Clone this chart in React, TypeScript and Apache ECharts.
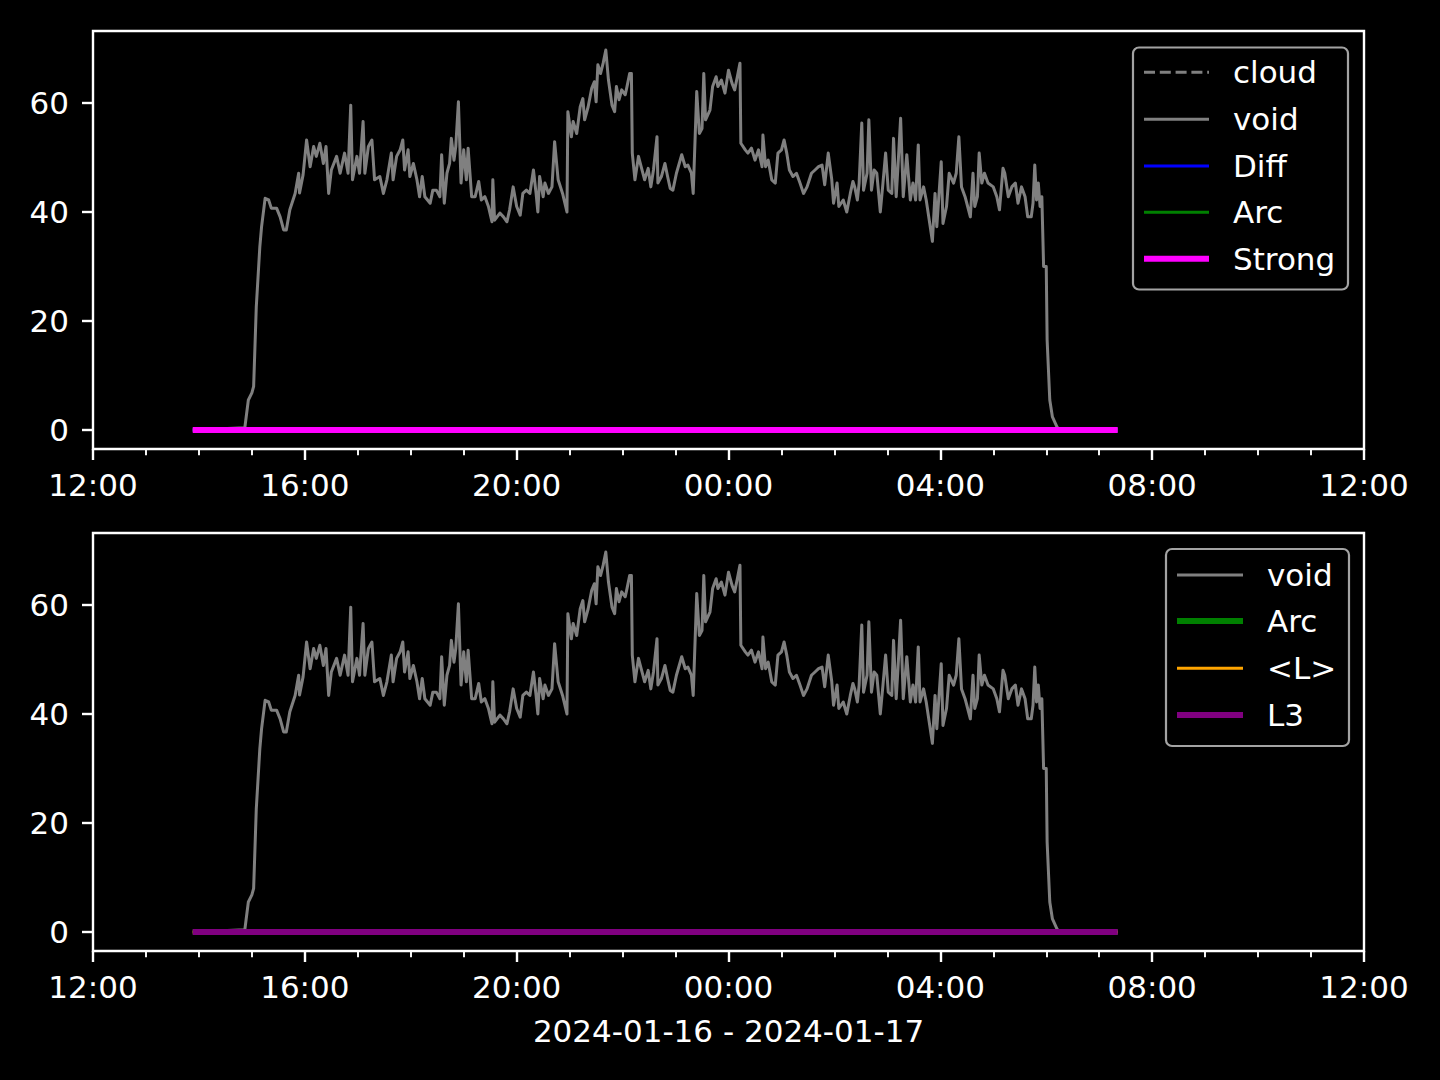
import React, { useEffect, useRef } from "react";
import * as echarts from "echarts";

// Time axis: 2024-01-16 12:00 -> 2024-01-17 12:00 (hours from 12:00)
const xTickHours = [0, 4, 8, 12, 16, 20, 24];
const yTickValues = [0, 20, 40, 60];
const dateLabel = "2024-01-16 - 2024-01-17";

const voidTimes = [
  "13:53", "14:52", "14:56", "15:00", "15:02", "15:05", "15:09", "15:11", "15:15", "15:19",
  "15:22", "15:28", "15:32", "15:36", "15:39", "15:43", "15:49", "15:53", "15:54", "15:58",
  "16:02", "16:06", "16:10", "16:13", "16:17", "16:21", "16:24", "16:27", "16:30", "16:36",
  "16:40", "16:45", "16:49", "16:52", "16:54", "16:59", "17:02", "17:06", "17:08", "17:12",
  "17:16", "17:19", "17:25", "17:29", "17:33", "17:38", "17:40", "17:44", "17:48", "17:51",
  "17:53", "17:57", "17:59", "18:03", "18:07", "18:10", "18:13", "18:16", "18:22", "18:25",
  "18:29", "18:33", "18:35", "18:38", "18:41", "18:44", "18:46", "18:49", "18:51", "18:54",
  "18:57", "19:00", "19:03", "19:05", "19:09", "19:13", "19:17", "19:20", "19:24", "19:28",
  "19:32", "19:33", "19:35", "19:41", "19:45", "19:49", "19:52", "19:56", "20:00", "20:04",
  "20:07", "20:11", "20:15", "20:19", "20:22", "20:24", "20:26", "20:30", "20:32", "20:36",
  "20:40", "20:43", "20:47", "20:52", "20:57", "20:58", "21:02", "21:04", "21:08", "21:12",
  "21:15", "21:17", "21:21", "21:25", "21:28", "21:30", "21:32", "21:35", "21:38", "21:41",
  "21:44", "21:48", "21:51", "21:53", "21:56", "21:59", "22:03", "22:05", "22:08", "22:10",
  "22:11", "22:14", "22:18", "22:22", "22:25", "22:29", "22:32", "22:35", "22:39", "22:40",
  "22:44", "22:48", "22:51", "22:54", "22:57", "23:01", "23:07", "23:11", "23:14", "23:18",
  "23:20", "23:24", "23:27", "23:30", "23:32", "23:34", "23:39", "23:42", "23:46", "23:48",
  "23:52", "23:56", "00:00", "00:04", "00:07", "00:10", "00:13", "00:14", "00:19", "00:22",
  "00:26", "00:30", "00:34", "00:38", "00:39", "00:42", "00:45", "00:49", "00:53", "00:56",
  "01:00", "01:03", "01:06", "01:09", "01:13", "01:17", "01:21", "01:25", "01:29", "01:34",
  "01:38", "01:42", "01:46", "01:49", "01:53", "01:57", "01:59", "02:03", "02:05", "02:10",
  "02:14", "02:18", "02:21", "02:23", "02:26", "02:28", "02:31", "02:33", "02:37", "02:39",
  "02:42", "02:45", "02:48", "02:52", "02:55", "02:58", "03:01", "03:05", "03:07", "03:10",
  "03:12", "03:15", "03:18", "03:22", "03:26", "03:29", "03:32", "03:35", "03:37", "03:41",
  "03:44", "03:48", "03:51", "03:54", "03:56", "04:01", "04:03", "04:07", "04:10", "04:15",
  "04:18", "04:21", "04:24", "04:28", "04:30", "04:34", "04:37", "04:39", "04:42", "04:44",
  "04:47", "04:50", "04:54", "05:00", "05:04", "05:07", "05:11", "05:13", "05:17", "05:21",
  "05:25", "05:28", "05:32", "05:36", "05:39", "05:43", "05:45", "05:47", "05:49", "05:51",
  "05:53", "05:55", "05:57", "06:00", "06:01", "06:04", "06:07", "06:12", "06:15", "07:21",
];

const voidValues = [
  0, 0.4, 5.5, 6.8, 8, 22.6, 33.6, 37.3, 42.5, 42.2,
  40.7, 40.7, 39.1, 36.7, 36.7, 40.4, 43.4, 47.1, 43.5, 46.8,
  53.2, 48.3, 52, 50.2, 52.6, 48.9, 52, 43.4, 47.7, 50.2,
  47.1, 50.8, 47.1, 59.6, 45.9, 50.2, 47.1, 56.6, 47.1, 52,
  53.2, 45.9, 46.5, 43.4, 45.9, 50.8, 45.9, 50.2, 51.4, 53.2,
  47.7, 51.4, 46.5, 48.9, 45.9, 42.8, 46.5, 42.8, 41.6, 44,
  44, 42.8, 50.5, 41.6, 47.1, 48.9, 53.5, 49.5, 52, 60.2,
  45.3, 51.4, 45.9, 51.7, 42.8, 42.8, 45.6, 42.2, 42.8, 41,
  38.2, 45.9, 38.5, 39.8, 39.1, 38.2, 40.4, 44.6, 41, 39.4,
  43.4, 44, 43.4, 47.7, 43.4, 40, 46.5, 42.8, 45.3, 43.4,
  44.6, 52.9, 45.9, 43.4, 40, 58.4, 53.8, 56.6, 54.4, 59.3,
  60.8, 56.9, 59.3, 62.7, 63.9, 60.2, 67, 65.4, 67.3, 69.7,
  64.2, 59.6, 58.4, 63, 60.6, 62.4, 61.5, 63, 65.4, 65.4,
  50.8, 45.9, 50.2, 47.7, 45.9, 48, 44.6, 47.7, 53.8, 45.3,
  46.5, 48.9, 46.5, 44.3, 44, 47.1, 50.5, 48.3, 48.6, 47.1,
  43.4, 62.1, 54.4, 55.3, 65.4, 56.9, 58.7, 63, 64.8, 63,
  64.2, 61.8, 66, 63.6, 62.4, 64.8, 67.3, 52.6, 51.4, 50.8,
  51.7, 49.5, 51.4, 48.3, 54.1, 48.3, 49.5, 45.9, 45.3, 50.8,
  51.4, 53.2, 50.8, 47.7, 46.5, 47.1, 45.3, 43.4, 44.6, 47.1,
  47.7, 48.3, 48.6, 45, 50.8, 45.9, 41.6, 45.3, 41, 42.2,
  40, 43.4, 45.6, 44.6, 42.2, 45.3, 56.3, 44, 47.1, 56.9,
  44, 47.7, 47.1, 40, 45.3, 50.8, 44, 43.4, 53.5, 42.8,
  48.3, 57.2, 42.8, 50.5, 42.2, 45.3, 42.2, 52.3, 42.2, 44.6,
  42.2, 37.9, 34.6, 43.4, 37.3, 49.2, 37.9, 41, 47.1, 45.3,
  47.1, 53.8, 44.6, 42.8, 41.6, 39.1, 47.1, 41, 42.8, 50.8,
  45.3, 47.1, 45.3, 44.6, 42.8, 40.4, 48, 47.1, 42.8, 44.6,
  45.3, 41.6, 44.6, 42.8, 39.1, 39.1, 41.6, 48.6, 42.2, 45.3,
  41, 42.8, 30, 30, 16.5, 5.5, 2.4, 0.6, 0, 0,
];

// Flat series (cloud, Diff, Arc, Strong, <L>, L3) all sit at 0
const flatTimes = ["13:53", "07:21"];
const flatValues = [0, 0];

const toHours = (t: string): number => {
  const [h, m] = t.split(":").map(Number);
  const v = h + m / 60;
  return v >= 12 ? v - 12 : v + 12;
};

const pairs = (times: string[], values: number[]) =>
  times.map((t, i) => [toHours(t), values[i]]);

const FONT = "DejaVu Sans";
const FS = 31;
const LW = 3;

export default function App() {
  const ref = useRef<HTMLDivElement>(null);

  useEffect(() => {
    document.body.style.margin = "0";
    document.body.style.background = "#000";
    const chart = echarts.init(ref.current!, null, { renderer: "svg" });

    const voidData = pairs(voidTimes, voidValues);
    const flatData = pairs(flatTimes, flatValues);

    const xAxisBase = (gridIndex: number, withName: boolean) => ({
      type: "value",
      gridIndex,
      min: 0,
      max: 24,
      interval: 4,
      axisLine: { show: false, onZero: false },
      splitLine: { show: false },
      axisTick: {
        show: true,
        length: 11,
        inside: false,
        customValues: xTickHours,
        lineStyle: { color: "#fff", width: 2.4 },
      },
      minorTick: {
        show: true,
        splitNumber: 4,
        length: 6.2,
        lineStyle: { color: "#fff", width: 1.9 },
      },
      axisLabel: {
        color: "#fff",
        fontSize: FS,
        fontFamily: FONT,
        margin: 20,
        showMinLabel: true,
        showMaxLabel: true,
        customValues: xTickHours,
        formatter: (v: number) =>
          String((12 + Math.round(v)) % 24).padStart(2, "0") + ":00",
      },
      ...(withName
        ? {
            name: dateLabel,
            nameLocation: "middle",
            nameGap: 64,
            nameTextStyle: { color: "#fff", fontSize: FS, fontFamily: FONT },
          }
        : {}),
    });

    const yAxisBase = (gridIndex: number) => ({
      type: "value",
      gridIndex,
      min: -3.49,
      max: 73.2,
      axisLine: { show: false, onZero: false },
      splitLine: { show: false },
      axisTick: {
        show: true,
        length: 11,
        inside: false,
        customValues: yTickValues,
        lineStyle: { color: "#fff", width: 2.4 },
      },
      axisLabel: {
        color: "#fff",
        fontSize: FS,
        fontFamily: FONT,
        margin: 24,
        customValues: yTickValues,
      },
    });

    const line = (
      name: string,
      data: number[][],
      color: string,
      width: number,
      axis: number,
      dashed = false
    ) => ({
      name,
      type: "line",
      xAxisIndex: axis,
      yAxisIndex: axis,
      data,
      symbol: "none",
      showSymbol: false,
      silent: true,
      clip: true,
      lineStyle: {
        color,
        width,
        type: dashed ? [11, 4.8] : "solid",
        cap: "butt",
        join: "round",
      },
    });

    const legendRows = (
      x0: number,
      x1: number,
      tx: number,
      items: { label: string; color: string; width: number; dash?: number[]; y: number }[]
    ) =>
      items.flatMap((it) => [
        {
          type: "line",
          silent: true,
          shape: { x1: x0, y1: it.y, x2: x1, y2: it.y },
          style: {
            stroke: it.color,
            lineWidth: it.width,
            lineDash: it.dash || null,
          },
          z: 100,
        },
        {
          type: "text",
          silent: true,
          x: tx,
          y: it.y,
          style: {
            text: it.label,
            fill: "#fff",
            font: `${FS}px "${FONT}"`,
            verticalAlign: "middle",
            align: "left",
          },
          z: 100,
        },
      ]);

    const option = {
      animation: false,
      backgroundColor: "#000",
      textStyle: { fontFamily: FONT },
      grid: [
        {
          left: 93,
          top: 31,
          width: 1271,
          height: 418,
          show: true,
          borderColor: "#fff",
          borderWidth: 2.4,
          backgroundColor: "transparent",
        },
        {
          left: 93,
          top: 533,
          width: 1271,
          height: 418,
          show: true,
          borderColor: "#fff",
          borderWidth: 2.4,
          backgroundColor: "transparent",
        },
      ],
      xAxis: [xAxisBase(0, false), xAxisBase(1, true)],
      yAxis: [yAxisBase(0), yAxisBase(1)],
      series: [
        line("cloud", flatData, "#808080", LW, 0, true),
        line("void", voidData, "#808080", LW, 0),
        line("Diff", flatData, "#0000ff", LW, 0),
        line("Arc", flatData, "#008000", LW, 0),
        line("Strong", flatData, "#ff00ff", LW * 2, 0),
        line("void", voidData, "#808080", LW, 1),
        line("Arc", flatData, "#008000", LW * 2, 1),
        line("<L>", flatData, "#ffa500", LW, 1),
        line("L3", flatData, "#800080", LW * 2, 1),
      ],
      graphic: [
        {
          type: "rect",
          silent: true,
          shape: { x: 1133, y: 47.5, width: 215, height: 242, r: 6 },
          style: { fill: "#000", stroke: "#a3a3a3", lineWidth: 2.2 },
          z: 99,
        },
        ...legendRows(1144, 1209, 1233, [
          { label: "cloud", color: "#808080", width: LW, dash: [11, 4.8], y: 72.3 },
          { label: "void", color: "#808080", width: LW, y: 119.3 },
          { label: "Diff", color: "#0000ff", width: LW, y: 166 },
          { label: "Arc", color: "#008000", width: LW, y: 212.3 },
          { label: "Strong", color: "#ff00ff", width: LW * 2, y: 258.7 },
        ]),
        {
          type: "rect",
          silent: true,
          shape: { x: 1166, y: 549, width: 183, height: 197, r: 6 },
          style: { fill: "#000", stroke: "#a3a3a3", lineWidth: 2.2 },
          z: 99,
        },
        ...legendRows(1177, 1243, 1267, [
          { label: "void", color: "#808080", width: LW, y: 575 },
          { label: "Arc", color: "#008000", width: LW * 2, y: 621 },
          { label: "<L>", color: "#ffa500", width: LW, y: 668.3 },
          { label: "L3", color: "#800080", width: LW * 2, y: 715 },
        ]),
      ],
    };

    chart.setOption(option as any);
    return () => chart.dispose();
  }, []);

  return (
    <div
      ref={ref}
      style={{
        position: "absolute",
        left: 0,
        top: 0,
        width: 1440,
        height: 1080,
        background: "#000",
      }}
    />
  );
}
